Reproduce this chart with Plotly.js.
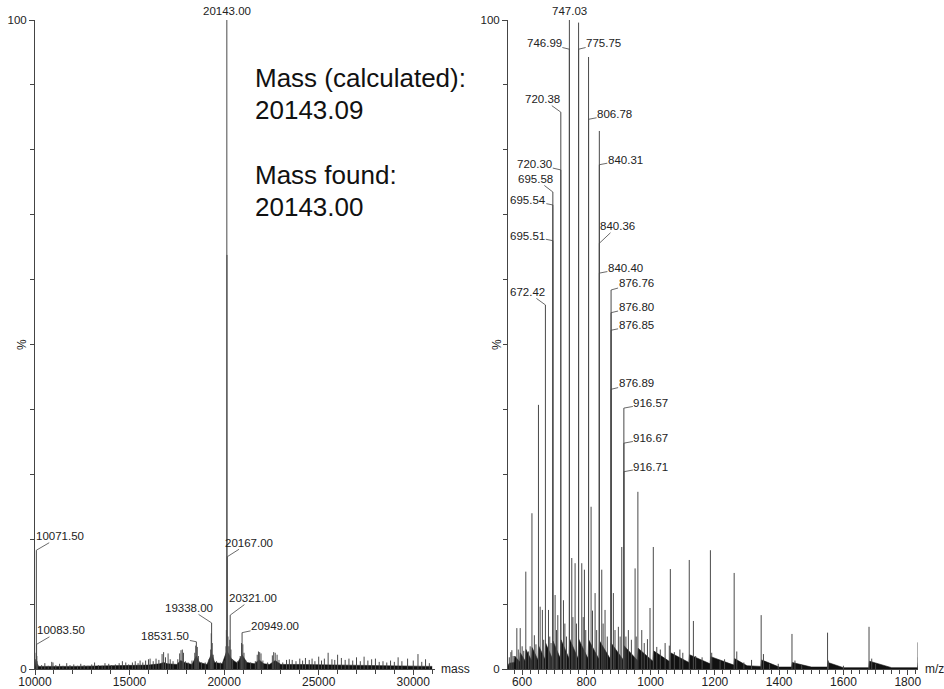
<!DOCTYPE html>
<html><head><meta charset="utf-8">
<script src="https://cdn.plot.ly/plotly-3.0.1.min.js"></script>
<style>html,body{margin:0;padding:0;background:#fff;}#chart{width:944px;height:689px;}</style>
</head><body><div id="chart"></div>
<script>
// ---------- Left panel: deconvoluted mass spectrum ----------
const lMass = [10060,10071.5,10083.5,10095,10110,10140,
 10350,10520,10700,10884,10950,11100,11300,11480,11677,11850,12050,12250,12420,12600,12800,13000,13150,13350,13550,13700,13900,14050,14250,14450,14620,14800,14950,15150,15300,15450,15556,15700,15850,16000,16085,16250,16400,16550,16720,16800,16900,17037,17150,17300,17550,17650,17720,17790,17850,17950,18100,18300,18450,18500,18531.5,18580,18640,18800,19000,19200,19290,19320,19338,19370,19420,19600,19800,20000,20100,20120,20143,20150,20167,20200,20250,20300,20321,20360,20450,20700,20850,20920,20949,20990,21050,21150,21400,21650,21750,21815,21880,21950,22050,22300,22550,22620,22700,22800,22900,23100,23300,23450,23600,23800,24000,24150,24300,24500,24650,24800,25000,25150,25300,25500,25700,25850,26000,26200,26400,26600,26800,27000,27200,27400,27600,27800,28000,28200,28400,28600,28800,29000,29200,29400,29700,30000,30250,30450,30650,30850];
const lInt = [2.5,18.3,3.8,2.0,1.2,0.8,
 0.6,0.9,0.5,1.1,1.0,0.6,0.8,0.5,0.9,0.6,0.7,0.5,0.8,0.6,0.5,0.7,1.0,0.6,0.5,0.9,0.8,0.6,0.7,0.9,1.2,1.0,0.7,1.0,1.2,0.9,1.3,1.0,1.3,1.5,1.6,1.2,1.6,1.4,2.3,2.6,1.8,2.4,1.5,1.2,1.5,2.4,2.9,3.0,2.5,1.2,1.0,1.3,2.5,3.6,4.2,3.4,2.0,1.0,1.0,1.5,3.0,5.5,7.1,4.0,2.2,1.2,1.0,1.3,3.5,6.0,100,63.8,17.3,5.0,3.5,4.5,8.3,3.0,1.5,1.2,2.0,4.0,5.6,3.8,2.5,1.3,1.0,1.2,2.2,2.7,2.6,2.4,1.3,1.0,2.1,2.6,2.5,2.2,1.4,1.0,1.4,1.5,1.4,1.2,1.6,1.3,1.7,1.4,1.6,1.2,1.9,1.3,1.6,2.5,1.5,1.4,2.2,1.7,1.4,1.6,1.3,1.8,1.2,1.9,1.3,1.5,1.6,1.1,1.2,1.0,1.3,1.1,1.8,1.2,1.6,1.3,2.3,1.1,1.5,0.9];
const lEnvMass = [10000,10050,10100,10200,12000,14000,15000,16000,16600,16800,17000,17500,17700,17900,18300,18530,18700,19100,19338,19500,19900,20143,20400,20700,20949,21200,21600,21850,22100,22400,22700,23000,24000,26000,28000,30000,31000];
const lEnvInt = [0.3,1.5,0.8,0.4,0.4,0.5,0.5,0.6,0.8,1.0,0.8,0.7,1.3,1.0,0.7,2.0,1.0,0.7,2.4,1.0,0.8,2.8,1.5,0.9,2.2,1.0,0.8,1.4,0.8,0.7,1.3,0.7,0.7,0.6,0.5,0.5,0.4];
const lLabelText = ['10071.50','10083.50','18531.50','19338.00','20167.00','20321.00','20949.00'];
const lLabelMass = [10071.5,10083.5,18531.5,19338,20167,20321,20949];
const lLabelInt  = [18.3,3.8,4.2,7.1,17.3,8.3,5.6];
const lTopLabel = {text:'20143.00', mass:20143, int:100};

// ---------- Right panel: raw m/z spectrum ----------
const rMz = [611.4,630.5,650.8,672.42,695.58,695.54,695.51,720.38,720.30,747.03,746.99,775.70,775.75,806.70,806.78,840.25,840.31,840.36,840.40,876.76,876.80,876.85,876.89,916.57,916.67,916.71,960.2,1008.2,1061.2,1120.1,1185.9,1259.9,1343.9,1439.8,1550.5,1679.6,1832.2];
const rInt = [15.0,24.0,40.7,56.1,73.5,71.5,66.0,85.8,76.9,100,95.5,99.6,95.5,94.3,84.7,82.9,77.7,65.6,61.0,58.4,54.9,52.2,43.1,40.2,34.8,30.4,27.3,18.8,15.4,16.8,18.3,14.8,8.3,5.4,5.6,6.5,4.1];
const rMinorMz = [560,565,568,572,583.5,588,594,600,605,619.6,625,638,643,656,663,667,682,686,690,702.6,707,711,728.6,733,738,754.5,758,764.8,769,785.6,790,793.8,798,814.6,819,827,832,847.8,852,858,865,884,889,899.5,905,910,923,930.6,940,951.5,955,972.3,980,990,998,1019,1030,1045,1058,1073.7,1091,1100,1133,1140,1160,1190,1216,1230,1268,1290,1314,1351,1370,1397,1449,1470,1553,1600,1688,1700,1833];
const rMinorInt = [1.8,2.6,2.9,2.0,6.3,3.0,6.3,3.5,2.8,2.7,3.5,5.2,3.8,9.6,9.1,4.5,9.1,5.0,4.0,11.4,6.0,8.3,10.6,7.0,5.0,17.1,8.0,16.3,7.0,16.3,8.0,15.3,6.0,25.0,9.0,11.7,6.0,15.3,7.0,9.1,5.0,11.7,6.0,6.5,5.0,18.8,5.0,6.0,4.5,15.5,5.0,6.0,4.0,4.6,9.4,3.4,3.0,4.0,3.6,2.6,3.0,2.5,7.4,2.0,1.8,2.5,1.3,1.5,2.7,1.0,1.4,2.3,0.8,0.8,1.3,0.6,1.3,0.5,1.6,0.8,1.8];
const rEnvMz = [556,560,575,577,592,594,610,612,629,631,649,651,671,673,694,696,719,721,746,748,774,776,805,807,839,841,875,877,915,917,959,961,1007,1009,1060,1062,1119,1121,1185,1187,1259,1261,1300,1343,1345,1400,1439,1441,1500,1550,1552,1600,1679,1681,1750,1831,1833];
const rEnvInt = [0.5,0.9,1.0,2.0,1.1,2.5,1.2,3.0,1.3,3.3,1.4,3.6,1.5,4.0,1.6,4.3,1.6,4.5,1.6,4.6,1.6,4.6,1.6,4.5,1.5,4.3,1.5,4.0,1.4,3.6,1.3,3.2,1.2,2.8,1.1,2.5,1.0,2.2,0.8,1.9,0.6,1.6,0.5,0.4,1.4,0.3,0.3,1.0,0.3,0.3,1.0,0.2,0.2,1.2,0.2,0.2,1.0];
const rLabelText = ['746.99','775.75','720.38','806.78','720.30','695.58','695.54','840.31','695.51','840.36','840.40','876.76','672.42','876.80','876.85','876.89','916.57','916.67','916.71'];
const rLabelMz   = [746.99,775.75,720.38,806.78,720.30,695.58,695.54,840.31,695.51,840.36,840.40,876.76,672.42,876.80,876.85,876.89,916.57,916.67,916.71];
const rLabelInt  = [95.5,95.5,85.8,84.7,76.9,73.5,71.5,77.7,66.0,65.6,61.0,58.4,56.1,54.9,52.2,43.1,40.2,34.8,30.4];
const rTopLabel = {text:'747.03', mz:747.03, int:100};

// ---------- helpers ----------
function sticks(xs, ys){
  const x=[], y=[];
  for (let i=0;i<xs.length;i++){ x.push(xs[i],xs[i],null); y.push(0,ys[i],null); }
  return {x, y};
}
const FONT = 'Liberation Sans, Arial, Helvetica, sans-serif';
const INK = '#222';
const lineCol = '#4a4a4a';

const ls = sticks(lMass, lInt);
const rs = sticks(rMz, rInt);
const rm = sticks(rMinorMz, rMinorInt);

const traces = [
  {x:lEnvMass, y:lEnvInt, xaxis:'x', yaxis:'y', mode:'lines', fill:'tozeroy', fillcolor:'#111', line:{color:'#111', width:0.6}, hoverinfo:'skip'},
  {x:ls.x, y:ls.y, xaxis:'x', yaxis:'y', mode:'lines', line:{color:lineCol, width:1}, hoverinfo:'skip', connectgaps:false},
  {x:rEnvMz, y:rEnvInt, xaxis:'x2', yaxis:'y2', mode:'lines', fill:'tozeroy', fillcolor:'#111', line:{color:'#111', width:0.6}, hoverinfo:'skip'},
  {x:rm.x, y:rm.y, xaxis:'x2', yaxis:'y2', mode:'lines', line:{color:lineCol, width:1}, hoverinfo:'skip', connectgaps:false},
  {x:rs.x, y:rs.y, xaxis:'x2', yaxis:'y2', mode:'lines', line:{color:lineCol, width:1}, hoverinfo:'skip', connectgaps:false}
];

// annotation offsets (pixels) for leader-line labels
const lOffsets = [[24,-14],[24,-14],[-31,-6],[-23,-15],[22,-14],[23,-17],[33,-7]];
const rOffsets = [[-25,-6],[25,-6],[-18,-13],[26,-5],[-26,-6],[-17,-13],[-25,-5],[26,-5],[-25,-5],[18,-17],[26,-5],[25,-7],[-18,-13],[25,-6],[25,-5],[25,-6],[27,-5],[27,-5],[27,-5]];

const annFont = {family:FONT, size:11.5, color:INK};
const annotations = [];
function leader(xref, yref, x, y, text, off){
  annotations.push({xref, yref, x, y, text, showarrow:true, arrowhead:0, arrowwidth:0.8, arrowcolor:'#444',
    ax:off[0], ay:off[1], standoff:0, startstandoff:0, font:annFont, borderpad:0});
}
lLabelText.forEach((t,i)=>leader('x','y',lLabelMass[i],lLabelInt[i],t,lOffsets[i]));
rLabelText.forEach((t,i)=>leader('x2','y2',rLabelMz[i],rLabelInt[i],t,rOffsets[i]));
annotations.push({xref:'x',yref:'y',x:lTopLabel.mass,y:lTopLabel.int,text:lTopLabel.text,showarrow:false,yanchor:'bottom',yshift:1,font:annFont});
annotations.push({xref:'x2',yref:'y2',x:rTopLabel.mz,y:rTopLabel.int,text:rTopLabel.text,showarrow:false,yanchor:'bottom',yshift:1,font:annFont});

// big text block
const W=944, H=689, ML=35, MR=26, MT=20, MB=20;
const PW = W-ML-MR, PH = H-MT-MB;
const px = v => (v-ML)/PW, py = v => (H-MB-v)/PH;
const bigFont = {family:FONT, size:26, color:'#111'};
[['Mass (calculated):',78],['20143.09',110],['Mass found:',175],['20143.00',207]].forEach(([t,y])=>{
  annotations.push({xref:'paper',yref:'paper',x:px(253),y:py(y),xanchor:'left',yanchor:'middle',text:t,showarrow:false,font:bigFont});
});
// axis side labels
const smallFont = {family:FONT, size:12, color:INK};
annotations.push({xref:'paper',yref:'paper',x:px(439),y:py(669),xanchor:'left',yanchor:'middle',text:'mass',showarrow:false,font:smallFont});
annotations.push({xref:'paper',yref:'paper',x:px(923),y:py(669),xanchor:'left',yanchor:'middle',text:'m/z',showarrow:false,font:smallFont});
annotations.push({xref:'paper',yref:'paper',x:px(22),y:py(345),xanchor:'center',yanchor:'middle',text:'%',textangle:-90,showarrow:false,font:smallFont});
annotations.push({xref:'paper',yref:'paper',x:px(497),y:py(345),xanchor:'center',yanchor:'middle',text:'%',textangle:-90,showarrow:false,font:smallFont});

const tickFont = {family:FONT, size:12, color:INK};
const common = {ticks:'outside', ticklen:5, tickwidth:1, tickcolor:'#444', showline:true, linecolor:'#444', linewidth:1,
  showgrid:false, zeroline:false, tickfont:tickFont, fixedrange:true, tickformat:'d'};
const minorTicks = d => ({dtick:d, ticks:'outside', ticklen:4, tickwidth:1, tickcolor:'#444', showgrid:false});

const layout = {
  width:W, height:H, margin:{l:ML, r:MR, t:MT, b:MB, pad:0}, showlegend:false,
  paper_bgcolor:'#fff', plot_bgcolor:'#fff',
  xaxis: Object.assign({}, common, {domain:[0, 400/PW], range:[10000,31150], tickmode:'linear', tick0:10000, dtick:5000, minor:minorTicks(1000), anchor:'y', ticklabelstandoff:-3}),
  yaxis: Object.assign({}, common, {domain:[0,1], range:[0,100], tickmode:'linear', tick0:0, dtick:100, minor:minorTicks(10), anchor:'x', tickfont:{family:FONT,size:11.5,color:INK}}),
  xaxis2: Object.assign({}, common, {domain:[473/PW, 1], range:[556,1832], tickmode:'linear', tick0:600, dtick:200, minor:minorTicks(25), anchor:'y2', ticklabelstandoff:-3}),
  yaxis2: Object.assign({}, common, {domain:[0,1], range:[0,100], tickmode:'linear', tick0:0, dtick:100, minor:minorTicks(10), anchor:'x2', tickfont:{family:FONT,size:11.5,color:INK}}),
  annotations
};
Plotly.newPlot('chart', traces, layout, {staticPlot:true, displayModeBar:false});
</script>
</body></html>
